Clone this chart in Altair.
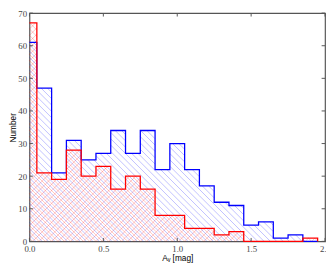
import math
import altair as alt
import pandas as pd

# ---- data ----
bin_edges = [0.0, 0.05, 0.15, 0.25, 0.35, 0.45, 0.55, 0.65, 0.75, 0.85, 0.95,
             1.05, 1.15, 1.25, 1.35, 1.45, 1.55, 1.65, 1.75, 1.85, 1.95]
blue_counts = [61, 47, 21, 31, 25, 27, 34, 27, 34, 22, 30, 22, 17, 12, 11, 5, 6, 1, 2, 0]
red_counts = [67, 21, 19, 28, 20, 23, 16, 20, 16, 8, 8, 4, 4, 2, 3, 0, 0, 0, 0, 1]
x_ticks = [0.0, 0.5, 1.0, 1.5, 2.0]
y_ticks = [0, 10, 20, 30, 40, 50, 60, 70]
x_title = "A\u1d65 [mag]"
y_title = "Number"

X_MAX, Y_MAX = 2.0, 70
W, H = 303, 234
sx, sy = W / X_MAX, H / Y_MAX
SP = 6.5  # hatch spacing in px (horizontal)


def outline(edges, counts, name):
    pts = []
    for i, h in enumerate(counts):
        pts.append((edges[i], h))
        pts.append((edges[i + 1], h))
    pts.append((edges[-1], 0))
    return pd.DataFrame({"x": [p[0] for p in pts], "y": [p[1] for p in pts],
                         "o": list(range(len(pts))), "s": name})


def hatch(edges, counts, dirs, name, phase=0.0):
    rows = []
    for i, h in enumerate(counts):
        if h <= 0:
            continue
        x0, x1, top = edges[i] * sx, edges[i + 1] * sx, h * sy
        for d in dirs:
            if d == "back":  # x + y = c
                k0 = math.ceil((x0 - phase) / SP)
                k1 = math.floor((x1 + top - phase) / SP)
                for k in range(k0, k1 + 1):
                    c = k * SP + phase
                    xa, xb = max(x0, c - top), min(x1, c)
                    if xb - xa > 1e-6:
                        rows.append((xa / sx, (c - xa) / sy, xb / sx, (c - xb) / sy))
            else:  # x - y = c
                k0 = math.ceil((x0 - top - phase) / SP)
                k1 = math.floor((x1 - phase) / SP)
                for k in range(k0, k1 + 1):
                    c = k * SP + phase
                    xa, xb = max(x0, c), min(x1, c + top)
                    if xb - xa > 1e-6:
                        rows.append((xa / sx, (xa - c) / sy, xb / sx, (xb - c) / sy))
    return pd.DataFrame(rows, columns=["x", "y", "x2", "y2"]).assign(s=name)


xs = alt.Scale(domain=[0, X_MAX], nice=False, zero=False)
ys = alt.Scale(domain=[0, Y_MAX], nice=False)

xax = alt.Axis(values=x_ticks, format=".1f", title=x_title, domain=False, ticks=False,
               grid=False, labelFont="Liberation Serif", labelFontSize=9, labelColor="#444",
               labelPadding=3, labelOverlap=False, labelFlush=False,
               titleFont="Liberation Sans", titleFontSize=8.5, titleFontWeight="normal",
               titleColor="#000", titleX=W / 2, titleY=17, titleBaseline="middle",
               titleAlign="center")
yax = alt.Axis(values=y_ticks, title=y_title, domain=False, ticks=False, grid=False,
               labelFont="Liberation Serif", labelFontSize=9, labelColor="#444",
               labelPadding=3, labelOverlap=False,
               titleFont="Liberation Sans", titleFontSize=8.5, titleFontWeight="normal",
               titleColor="#000", titleAngle=270, titleX=-17, titleY=H / 2,
               titleBaseline="middle", titleAlign="center")


def X(f):
    return alt.X(f, scale=xs, axis=xax)


def Y(f):
    return alt.Y(f, scale=ys, axis=yax)


blue_h = alt.Chart(hatch(bin_edges, blue_counts, ["back"], "b")).mark_rule(
    color="#0000ff", strokeWidth=0.7, opacity=0.36).encode(
    x=X("x:Q"), y=Y("y:Q"), x2="x2:Q", y2="y2:Q")
red_h = alt.Chart(hatch(bin_edges, red_counts, ["back", "fwd"], "r", SP / 2)).mark_rule(
    color="#ff0000", strokeWidth=0.7, opacity=0.33).encode(
    x=X("x:Q"), y=Y("y:Q"), x2="x2:Q", y2="y2:Q")

blue_l = alt.Chart(outline(bin_edges, blue_counts, "b")).mark_line(
    color="#0000ff", strokeWidth=1.3, strokeJoin="miter").encode(
    x=X("x:Q"), y=Y("y:Q"), order="o:Q")
red_l = alt.Chart(outline(bin_edges, red_counts, "r")).mark_line(
    color="#ff0000", strokeWidth=1.3, strokeJoin="miter").encode(
    x=X("x:Q"), y=Y("y:Q"), order="o:Q")

# inward ticks on all four sides
xt = pd.DataFrame({"x": x_ticks})
yt = pd.DataFrame({"y": y_ticks})
TK = 3.5
tick_col = "#555"
bt = alt.Chart(xt).mark_rule(color=tick_col, strokeWidth=1).encode(
    x=X("x:Q"), y=alt.value(H), y2=alt.value(H - TK))
tt = alt.Chart(xt).mark_rule(color=tick_col, strokeWidth=1).encode(
    x=X("x:Q"), y=alt.value(0), y2=alt.value(TK))
lt = alt.Chart(yt).mark_rule(color=tick_col, strokeWidth=1).encode(
    y=Y("y:Q"), x=alt.value(0), x2=alt.value(TK))
rt = alt.Chart(yt).mark_rule(color=tick_col, strokeWidth=1).encode(
    y=Y("y:Q"), x=alt.value(W - TK), x2=alt.value(W))

chart = alt.layer(blue_h, red_h, blue_l, red_l, bt, tt, lt, rt).properties(
    width=W, height=H,
    autosize=alt.AutoSizeParams(type="none"),
    padding={"left": 22, "top": 2, "right": 1, "bottom": 22},
).configure_view(stroke="#555", strokeWidth=1.2)

chart.save("out.html", embed_options={"renderer": "svg", "actions": False})
